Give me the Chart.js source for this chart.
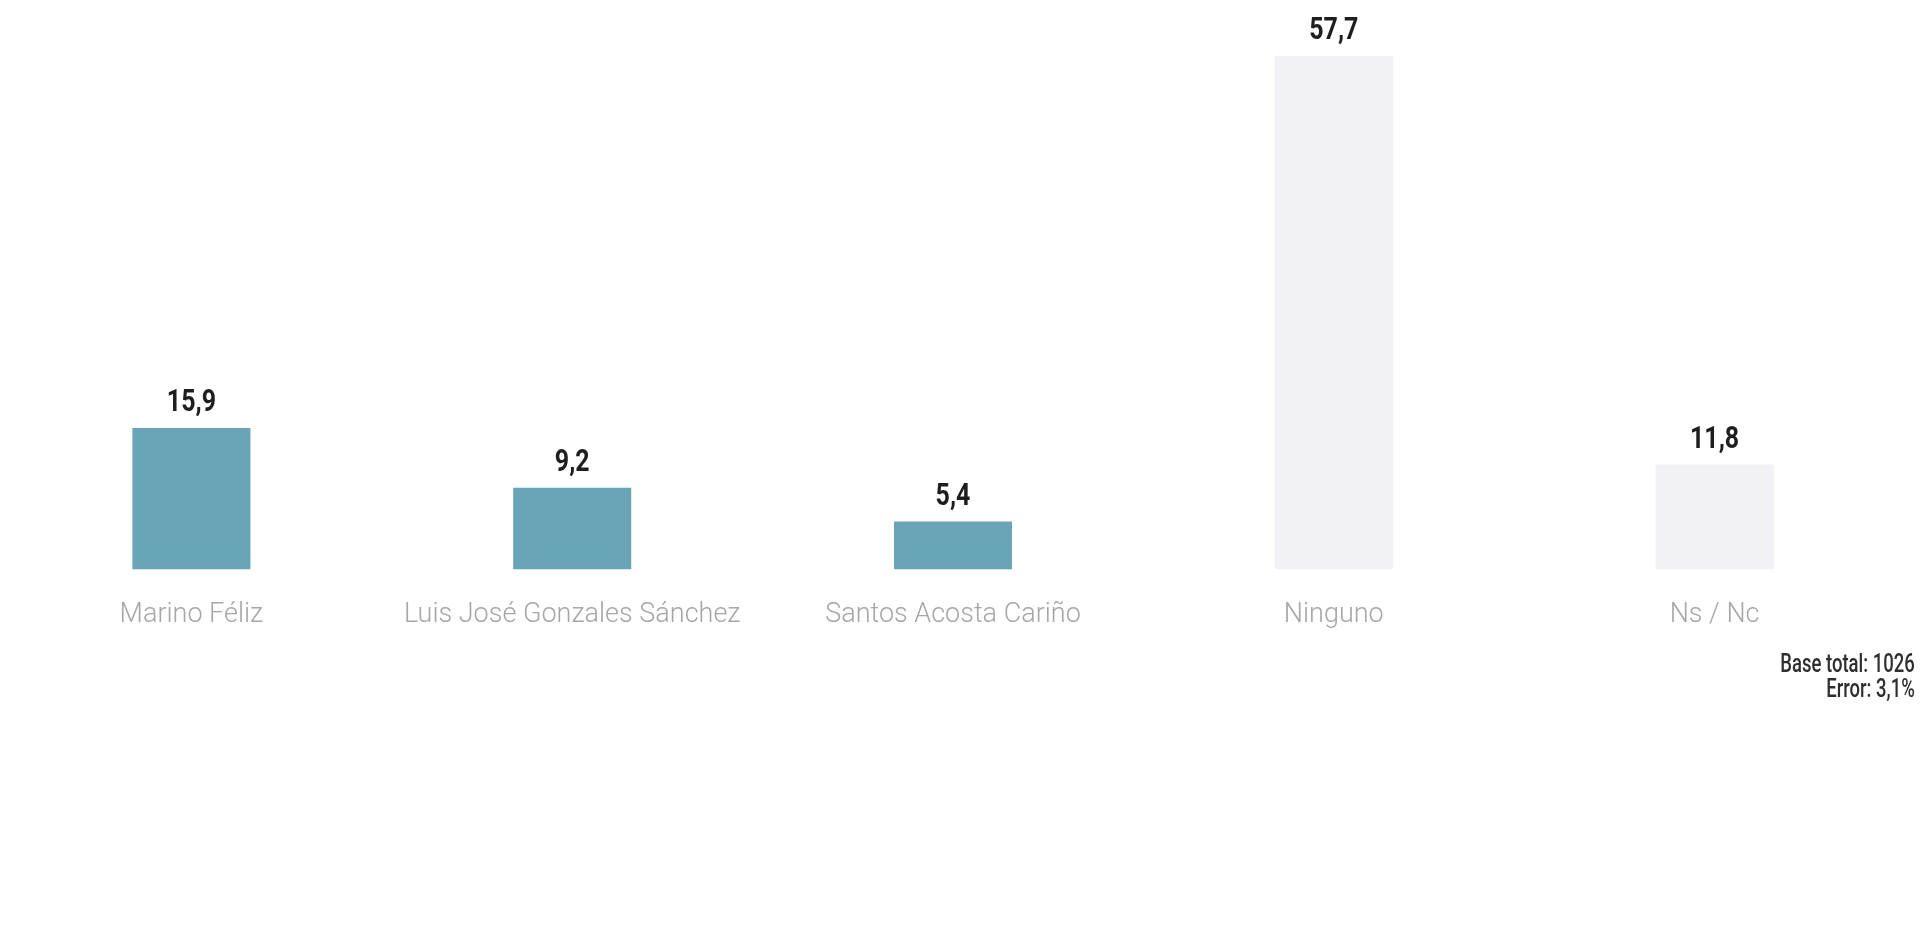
<!DOCTYPE html>
<html>
<head>
<meta charset="utf-8">
<script src="https://cdn.jsdelivr.net/npm/chart.js@4/dist/chart.umd.min.js"></script>
<style>
  html, body { margin: 0; padding: 0; background: #fff; }
  #wrap { position: relative; width: 1925px; height: 660px; }
  .note {
    position: absolute; right: 10px; text-align: right;
    font-family: Roboto, sans-serif; font-weight: 500;
    font-size: 25px; color: #2e2e2e; line-height: 25px;
    transform: scaleX(0.74); transform-origin: right top;
  }
</style>
</head>
<body>
<div id="wrap"><canvas id="chart"></canvas></div>
<div class="note" style="top:651px">Base total: 1026<br>Error: 3,1%</div>
<script>
// candidates + "none" / "don't know"
const categories = ['Marino Féliz', 'Luis José Gonzales Sánchez', 'Santos Acosta Cariño', 'Ninguno', 'Ns / Nc'];
const values = [15.9, 9.2, 5.4, 57.7, 11.8];
const TEAL = '#69a5b6';
const PALE = '#f1f1f6';
const barColors = [TEAL, TEAL, TEAL, PALE, PALE];

// values over each bar, comma decimal, squeezed to look like the condensed face
const valueLabels = {
  id: 'valueLabels',
  afterDatasetsDraw(chart) {
    const { ctx } = chart;
    const meta = chart.getDatasetMeta(0);
    meta.data.forEach((bar, i) => {
      ctx.save();
      ctx.translate(bar.x, bar.y - 17);
      ctx.scale(0.78, 1);
      ctx.font = "bold 32px Roboto, sans-serif";
      ctx.fillStyle = '#1e1e1e';
      ctx.textAlign = 'center';
      ctx.textBaseline = 'alphabetic';
      ctx.fillText(values[i].toFixed(1).replace('.', ','), 0, 0);
      ctx.restore();
    });
  },
};

new Chart(document.getElementById('chart'), {
  type: 'bar',
  data: {
    labels: categories,
    datasets: [{ data: values, backgroundColor: barColors, barPercentage: 0.31, categoryPercentage: 1 }],
  },
  options: {
    responsive: true,
    maintainAspectRatio: false,
    animation: false,
    layout: { padding: { left: 1, right: 20, top: 0, bottom: 0 } },
    plugins: { legend: { display: false }, tooltip: { enabled: false } },
    scales: {
      x: {
        grid: { display: false, drawTicks: false },
        border: { display: false },
        ticks: {
          padding: 29,
          color: '#a6a6a6',
          font: { family: 'Roboto', weight: '300', size: 27 },
        },
      },
      y: { display: false, min: 0, max: 64 },
    },
  },
  plugins: [valueLabels],
});
</script>
</body>
</html>
